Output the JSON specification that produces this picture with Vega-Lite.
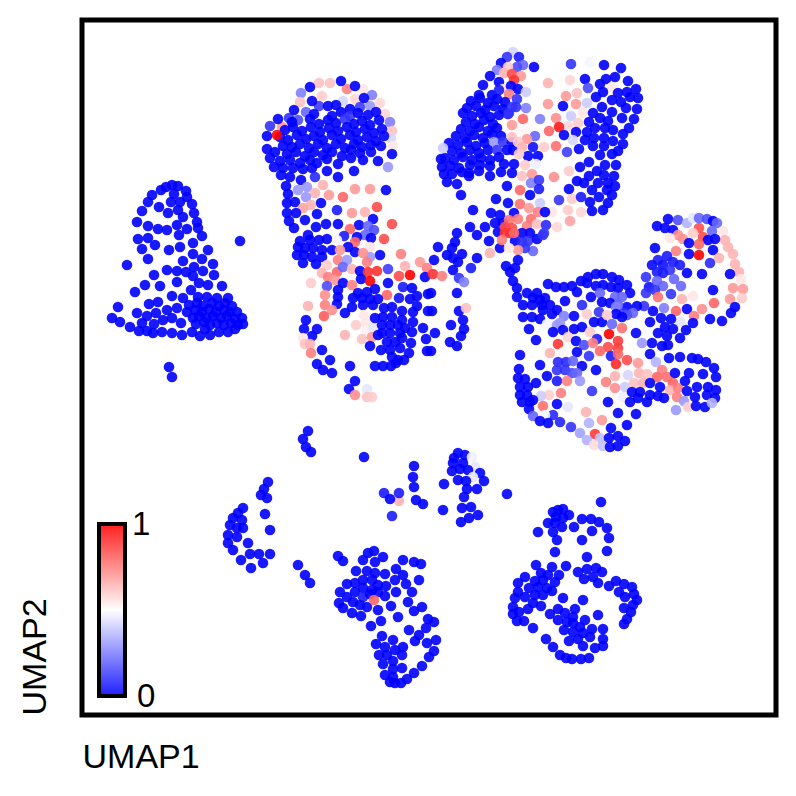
{"$schema":"https://vega.github.io/schema/vega-lite/v6.json","width":694,"height":695,"autosize":"none","padding":{"left":82,"top":20,"right":20,"bottom":81},"background":"white","config":{"view":{"stroke":"black","strokeWidth":5},"font":"Liberation Sans"},
"data":{"values":[
{"x":172,"y":185,"v":0},{"x":178,"y":186,"v":0},{"x":166,"y":187,"v":0},{"x":161,"y":190,"v":0},{"x":186,"y":191,"v":0},{"x":152,"y":195,"v":0},{"x":174,"y":194,"v":0},{"x":148,"y":202,"v":0},{"x":171,"y":202,"v":0},{"x":180,"y":202,"v":0},{"x":187,"y":197,"v":0},{"x":192,"y":204,"v":0},{"x":142,"y":211,"v":0},{"x":159,"y":207,"v":0},{"x":168,"y":213,"v":0},{"x":178,"y":210,"v":0},{"x":194,"y":213,"v":0},{"x":183,"y":217,"v":0},{"x":137,"y":222,"v":0},{"x":148,"y":226,"v":0},{"x":158,"y":229,"v":0},{"x":167,"y":230,"v":0},{"x":177,"y":225,"v":0},{"x":187,"y":229,"v":0},{"x":197,"y":222,"v":0},{"x":198,"y":228,"v":0},{"x":179,"y":235,"v":0},{"x":202,"y":236,"v":0},{"x":138,"y":239,"v":0},{"x":148,"y":238,"v":0},{"x":155,"y":245,"v":0},{"x":142,"y":249,"v":0},{"x":169,"y":250,"v":0},{"x":180,"y":247,"v":0},{"x":193,"y":243,"v":0},{"x":208,"y":250,"v":0},{"x":193,"y":254,"v":0},{"x":148,"y":259,"v":0},{"x":202,"y":259,"v":0},{"x":183,"y":261,"v":0},{"x":213,"y":264,"v":0},{"x":127,"y":265,"v":0},{"x":194,"y":267,"v":0},{"x":167,"y":270,"v":0},{"x":177,"y":271,"v":0},{"x":186,"y":272,"v":0},{"x":203,"y":271,"v":0},{"x":154,"y":275,"v":0},{"x":214,"y":275,"v":0},{"x":193,"y":276,"v":0},{"x":177,"y":282,"v":0},{"x":199,"y":283,"v":0},{"x":208,"y":285,"v":0},{"x":222,"y":286,"v":0},{"x":145,"y":285,"v":0},{"x":160,"y":286,"v":0},{"x":191,"y":290,"v":0},{"x":135,"y":292,"v":0},{"x":172,"y":296,"v":0},{"x":183,"y":298,"v":0},{"x":198,"y":297,"v":0},{"x":207,"y":297,"v":0},{"x":217,"y":298,"v":0},{"x":228,"y":298,"v":0},{"x":158,"y":302,"v":0},{"x":149,"y":304,"v":0},{"x":118,"y":307,"v":0},{"x":177,"y":308,"v":0},{"x":167,"y":310,"v":0},{"x":112,"y":318,"v":0},{"x":120,"y":322,"v":0},{"x":137,"y":313,"v":0},{"x":156,"y":313,"v":0},{"x":147,"y":316,"v":0},{"x":172,"y":318,"v":0},{"x":163,"y":320,"v":0},{"x":142,"y":323,"v":0},{"x":154,"y":324,"v":0},{"x":181,"y":323,"v":0},{"x":130,"y":327,"v":0},{"x":139,"y":331,"v":0},{"x":147,"y":331,"v":0},{"x":153,"y":333,"v":0},{"x":162,"y":332,"v":0},{"x":172,"y":333,"v":0},{"x":182,"y":335,"v":0},{"x":192,"y":332,"v":0},{"x":200,"y":336,"v":0},{"x":210,"y":335,"v":0},{"x":219,"y":332,"v":0},{"x":228,"y":332,"v":0},{"x":235,"y":329,"v":0},{"x":243,"y":324,"v":0},{"x":242,"y":318,"v":0},{"x":237,"y":312,"v":0},{"x":232,"y":306,"v":0},
{"x":189,"y":305,"v":0},{"x":197,"y":303,"v":0},{"x":203,"y":306,"v":0},{"x":212,"y":303,"v":0},{"x":219,"y":306,"v":0},{"x":225,"y":303,"v":0},{"x":187,"y":312,"v":0},{"x":195,"y":310,"v":0},{"x":202,"y":312,"v":0},{"x":209,"y":309,"v":0},{"x":216,"y":312,"v":0},{"x":224,"y":310,"v":0},{"x":230,"y":312,"v":0},{"x":193,"y":318,"v":0},{"x":199,"y":316,"v":0},{"x":207,"y":318,"v":0},{"x":213,"y":316,"v":0},{"x":221,"y":318,"v":0},{"x":227,"y":316,"v":0},{"x":235,"y":319,"v":0},{"x":196,"y":324,"v":0},{"x":204,"y":322,"v":0},{"x":210,"y":325,"v":0},{"x":217,"y":323,"v":0},{"x":224,"y":325,"v":0},{"x":231,"y":323,"v":0},{"x":238,"y":325,"v":0},{"x":205,"y":329,"v":0},{"x":240,"y":241,"v":0},{"x":169,"y":367,"v":0},{"x":172,"y":377,"v":0},
{"x":319,"y":83,"v":0.62},{"x":330,"y":83,"v":0.62},{"x":347,"y":89,"v":0.75},{"x":363,"y":89,"v":0.55},{"x":301,"y":93,"v":0.25},{"x":372,"y":95,"v":0.25},{"x":322,"y":96,"v":0.6},{"x":355,"y":99,"v":0.58},{"x":343,"y":101,"v":0.42},{"x":300,"y":102,"v":0.62},{"x":380,"y":103,"v":0.58},{"x":319,"y":106,"v":0.12},{"x":360,"y":107,"v":0.12},{"x":370,"y":106,"v":0.3},{"x":306,"y":112,"v":0.2},{"x":385,"y":114,"v":0.58},{"x":289,"y":118,"v":0.1},{"x":298,"y":120,"v":0.15},{"x":322,"y":117,"v":0.5},{"x":390,"y":122,"v":0.25},{"x":270,"y":126,"v":0.1},{"x":282,"y":127,"v":0.7},{"x":392,"y":131,"v":0.62},{"x":391,"y":138,"v":0.42},{"x":393,"y":146,"v":0.55},{"x":388,"y":167,"v":0.3},{"x":341,"y":81,"v":0},{"x":355,"y":86,"v":0},{"x":310,"y":87,"v":0},{"x":364,"y":98,"v":0},{"x":312,"y":101,"v":0},{"x":328,"y":106,"v":0},{"x":336,"y":105,"v":0},{"x":350,"y":109,"v":0},{"x":294,"y":110,"v":0},{"x":278,"y":119,"v":0},{"x":267,"y":136,"v":0},{"x":267,"y":149,"v":0},{"x":392,"y":154,"v":0},
{"x":314,"y":114,"v":0},{"x":332,"y":116,"v":0},{"x":341,"y":112,"v":0},{"x":350,"y":116,"v":0.1},{"x":358,"y":113,"v":0},{"x":368,"y":115,"v":0},{"x":376,"y":112,"v":0},{"x":292,"y":122,"v":0},{"x":310,"y":119,"v":0},{"x":319,"y":124,"v":0},{"x":328,"y":120,"v":0},{"x":336,"y":123,"v":0},{"x":345,"y":119,"v":0.1},{"x":354,"y":124,"v":0},{"x":362,"y":121,"v":0},{"x":370,"y":125,"v":0},{"x":379,"y":120,"v":0},{"x":285,"y":130,"v":0},{"x":293,"y":127,"v":0},{"x":302,"y":131,"v":0},{"x":311,"y":127,"v":0},{"x":320,"y":132,"v":0},{"x":329,"y":128,"v":0},{"x":338,"y":131,"v":0},{"x":347,"y":127,"v":0},{"x":356,"y":132,"v":0},{"x":365,"y":129,"v":0},{"x":374,"y":133,"v":0},{"x":382,"y":129,"v":0},{"x":280,"y":137,"v":0},{"x":288,"y":140,"v":0},{"x":297,"y":135,"v":0},{"x":306,"y":139,"v":0},{"x":314,"y":136,"v":0},{"x":323,"y":140,"v":0},{"x":332,"y":135,"v":0},{"x":341,"y":139,"v":0},{"x":350,"y":135,"v":0},{"x":358,"y":140,"v":0},{"x":367,"y":137,"v":0},{"x":376,"y":141,"v":0},{"x":384,"y":136,"v":0},{"x":283,"y":146,"v":0},{"x":292,"y":147,"v":0},{"x":300,"y":144,"v":0},{"x":309,"y":148,"v":0},{"x":318,"y":144,"v":0},{"x":327,"y":148,"v":0},{"x":336,"y":144,"v":0},{"x":345,"y":148,"v":0},{"x":354,"y":144,"v":0},{"x":362,"y":147,"v":0},{"x":371,"y":145,"v":0},{"x":381,"y":146,"v":0},{"x":275,"y":152,"v":0},{"x":287,"y":154,"v":0},{"x":296,"y":152,"v":0},{"x":305,"y":156,"v":0},{"x":314,"y":152,"v":0},{"x":323,"y":155,"v":0},{"x":332,"y":152,"v":0},{"x":342,"y":156,"v":0},{"x":351,"y":150,"v":0},{"x":360,"y":153,"v":0},{"x":371,"y":152,"v":0},{"x":270,"y":158,"v":0},{"x":280,"y":161,"v":0},{"x":290,"y":160,"v":0},{"x":300,"y":163,"v":0},{"x":310,"y":160,"v":0},{"x":317,"y":163,"v":0},{"x":327,"y":159,"v":0},{"x":338,"y":164,"v":0},{"x":351,"y":158,"v":0},{"x":363,"y":160,"v":0},{"x":378,"y":161,"v":0},{"x":274,"y":167,"v":0},{"x":283,"y":168,"v":0},{"x":293,"y":168,"v":0},{"x":303,"y":169,"v":0},{"x":312,"y":168,"v":0},{"x":277,"y":135,"v":1},{"x":281,"y":175,"v":0},{"x":290,"y":177,"v":0},{"x":301,"y":180,"v":0},{"x":315,"y":177,"v":0.08},{"x":327,"y":171,"v":0},{"x":338,"y":177,"v":0},{"x":354,"y":171,"v":0},
{"x":286,"y":186,"v":0},{"x":323,"y":185,"v":0.65},{"x":355,"y":189,"v":0.7},{"x":370,"y":189,"v":0.7},{"x":386,"y":190,"v":0},{"x":298,"y":190,"v":0.3},{"x":307,"y":187,"v":0.3},{"x":315,"y":193,"v":0.65},{"x":288,"y":194,"v":0},{"x":329,"y":195,"v":0.7},{"x":343,"y":197,"v":0.8},{"x":306,"y":197,"v":0.3},{"x":287,"y":203,"v":0},{"x":295,"y":202,"v":0},{"x":321,"y":203,"v":0},{"x":377,"y":207,"v":0.85},{"x":311,"y":205,"v":0.65},{"x":303,"y":208,"v":0.68},{"x":337,"y":210,"v":0.05},{"x":352,"y":213,"v":0.7},{"x":365,"y":212,"v":0.65},{"x":287,"y":213,"v":0},{"x":296,"y":213,"v":0},{"x":317,"y":214,"v":0},{"x":373,"y":219,"v":0},{"x":289,"y":221,"v":0},{"x":305,"y":220,"v":0},{"x":326,"y":224,"v":0},{"x":338,"y":224,"v":0},{"x":359,"y":225,"v":0},{"x":392,"y":224,"v":0.85},{"x":294,"y":228,"v":0},{"x":316,"y":227,"v":0},{"x":350,"y":229,"v":0.8},{"x":368,"y":226,"v":0.2},{"x":374,"y":230,"v":0.15},{"x":308,"y":235,"v":0},{"x":365,"y":235,"v":0.2},{"x":344,"y":236,"v":0.05},{"x":357,"y":237,"v":0},{"x":371,"y":238,"v":0},{"x":384,"y":239,"v":0.85},
{"x":300,"y":241,"v":0},{"x":310,"y":240,"v":0},{"x":319,"y":240,"v":0},{"x":327,"y":239,"v":0},{"x":298,"y":247,"v":0},{"x":305,"y":248,"v":0},{"x":313,"y":248,"v":0},{"x":322,"y":250,"v":0},{"x":332,"y":250,"v":0},{"x":297,"y":255,"v":0},{"x":304,"y":255,"v":0},{"x":312,"y":257,"v":0},{"x":322,"y":257,"v":0},{"x":303,"y":263,"v":0},{"x":316,"y":264,"v":0},{"x":355,"y":242,"v":0.8},{"x":337,"y":240,"v":0.52},{"x":370,"y":247,"v":0.55},{"x":348,"y":247,"v":0},{"x":355,"y":252,"v":0},{"x":401,"y":254,"v":0.75},{"x":380,"y":255,"v":0},{"x":370,"y":257,"v":0.3},{"x":340,"y":250,"v":0.7},{"x":363,"y":253,"v":0.72},{"x":338,"y":260,"v":0.75},{"x":347,"y":260,"v":0.3},{"x":327,"y":265,"v":0.6},{"x":405,"y":266,"v":0.65},{"x":420,"y":262,"v":0.7},{"x":427,"y":268,"v":0.75},{"x":388,"y":269,"v":0.12},{"x":367,"y":262,"v":0.75},{"x":322,"y":273,"v":0.65},{"x":337,"y":272,"v":0.8},{"x":343,"y":267,"v":0.2},{"x":352,"y":269,"v":0.65},{"x":360,"y":271,"v":0},{"x":368,"y":272,"v":0.9},{"x":377,"y":271,"v":0.9},{"x":410,"y":275,"v":1},{"x":399,"y":276,"v":0.85},{"x":425,"y":277,"v":0},{"x":328,"y":277,"v":0.75},{"x":335,"y":280,"v":0.7},{"x":361,"y":279,"v":0},{"x":370,"y":281,"v":1},{"x":388,"y":283,"v":0},{"x":343,"y":283,"v":0},{"x":352,"y":285,"v":0.75},{"x":311,"y":283,"v":0.6},{"x":327,"y":286,"v":0.15},{"x":403,"y":287,"v":0.05},{"x":412,"y":288,"v":0},{"x":338,"y":290,"v":0},{"x":375,"y":289,"v":0},{"x":358,"y":293,"v":0},{"x":367,"y":292,"v":0},{"x":325,"y":295,"v":0.72},{"x":338,"y":297,"v":0},{"x":417,"y":296,"v":0},{"x":387,"y":295,"v":0.8},{"x":399,"y":298,"v":0.03},{"x":410,"y":299,"v":0},{"x":428,"y":294,"v":0},{"x":353,"y":298,"v":0},{"x":362,"y":298,"v":0},{"x":370,"y":299,"v":0},{"x":378,"y":299,"v":0},{"x":325,"y":305,"v":0.75},{"x":337,"y":304,"v":0},{"x":352,"y":307,"v":0},{"x":363,"y":305,"v":0},{"x":373,"y":305,"v":0},{"x":308,"y":306,"v":0.65},{"x":332,"y":310,"v":0.72},{"x":345,"y":313,"v":0},{"x":324,"y":316,"v":0.82},{"x":384,"y":308,"v":0},{"x":392,"y":307,"v":0},{"x":402,"y":311,"v":0},{"x":417,"y":306,"v":0},{"x":413,"y":312,"v":0},{"x":428,"y":311,"v":0},
{"x":364,"y":315,"v":0.55},{"x":366,"y":323,"v":0.55},{"x":356,"y":325,"v":0.6},{"x":367,"y":330,"v":0.53},{"x":373,"y":327,"v":0.45},{"x":345,"y":335,"v":0.65},{"x":362,"y":339,"v":0.62},{"x":372,"y":337,"v":0.7},{"x":375,"y":318,"v":0},{"x":383,"y":317,"v":0},{"x":392,"y":317,"v":0},{"x":402,"y":320,"v":0},{"x":413,"y":322,"v":0},{"x":382,"y":325,"v":0},{"x":390,"y":325,"v":0},{"x":398,"y":325,"v":0},{"x":405,"y":328,"v":0},{"x":423,"y":328,"v":0},{"x":382,"y":333,"v":0},{"x":390,"y":333,"v":0},{"x":400,"y":333,"v":0},{"x":412,"y":332,"v":0},{"x":378,"y":335,"v":0},{"x":387,"y":342,"v":0},{"x":395,"y":342,"v":0},{"x":402,"y":338,"v":0},{"x":411,"y":343,"v":0},{"x":426,"y":339,"v":0},{"x":381,"y":350,"v":0},{"x":390,"y":350,"v":0},{"x":400,"y":348,"v":0},{"x":409,"y":353,"v":0},{"x":427,"y":351,"v":0},{"x":392,"y":357,"v":0},{"x":398,"y":360,"v":0},{"x":404,"y":360,"v":0},{"x":375,"y":366,"v":0},{"x":383,"y":366,"v":0},{"x":391,"y":366,"v":0},{"x":396,"y":363,"v":0},{"x":370,"y":346,"v":0},
{"x":306,"y":320,"v":0},{"x":304,"y":329,"v":0},{"x":317,"y":329,"v":0},{"x":312,"y":336,"v":0},{"x":303,"y":338,"v":0.55},{"x":305,"y":344,"v":0.62},{"x":310,"y":344,"v":0.65},{"x":311,"y":353,"v":0.75},{"x":322,"y":350,"v":0},{"x":330,"y":360,"v":0},{"x":317,"y":364,"v":0},{"x":323,"y":370,"v":0},{"x":332,"y":373,"v":0},{"x":350,"y":366,"v":0},{"x":355,"y":381,"v":0},{"x":349,"y":389,"v":0},{"x":367,"y":389,"v":0.45},{"x":355,"y":395,"v":0.72},{"x":367,"y":397,"v":0.62},{"x":372,"y":397,"v":0.6},
{"x":438,"y":247,"v":0},{"x":457,"y":233,"v":0},{"x":455,"y":242,"v":0},{"x":452,"y":248,"v":0},{"x":447,"y":255,"v":0},{"x":453,"y":258,"v":0},{"x":462,"y":254,"v":0},{"x":458,"y":262,"v":0},{"x":453,"y":270,"v":0},{"x":434,"y":260,"v":0},{"x":433,"y":274,"v":0.9},{"x":442,"y":276,"v":0.75},{"x":471,"y":268,"v":0.05},{"x":477,"y":258,"v":0},{"x":459,"y":278,"v":0.1},{"x":464,"y":282,"v":0.25},{"x":431,"y":293,"v":0},{"x":457,"y":293,"v":0},{"x":432,"y":311,"v":0},{"x":459,"y":311,"v":0},{"x":466,"y":308,"v":0.62},{"x":463,"y":320,"v":0},{"x":464,"y":329,"v":0},{"x":451,"y":325,"v":0},{"x":435,"y":333,"v":0},{"x":461,"y":336,"v":0},{"x":450,"y":342,"v":0},{"x":457,"y":346,"v":0},{"x":431,"y":351,"v":0},
{"x":513,"y":52,"v":0.42},{"x":507,"y":57,"v":0.1},{"x":519,"y":57,"v":0.05},{"x":501,"y":63,"v":0},{"x":523,"y":65,"v":0.2},{"x":534,"y":67,"v":0},{"x":517,"y":67,"v":0.15},{"x":508,"y":67,"v":0.6},{"x":497,"y":70,"v":0.25},{"x":490,"y":76,"v":0},{"x":504,"y":73,"v":0.65},{"x":512,"y":74,"v":0.85},{"x":521,"y":76,"v":0.7},{"x":514,"y":80,"v":0.9},{"x":499,"y":82,"v":0},{"x":483,"y":85,"v":0},{"x":503,"y":89,"v":0.55},{"x":518,"y":89,"v":0},{"x":511,"y":86,"v":0},{"x":526,"y":92,"v":0.4},{"x":479,"y":95,"v":0},{"x":509,"y":94,"v":0.75},{"x":492,"y":95,"v":0},{"x":499,"y":90,"v":0.05},
{"x":471,"y":101,"v":0},{"x":480,"y":98,"v":0},{"x":488,"y":103,"v":0},{"x":497,"y":99,"v":0},{"x":505,"y":102,"v":0},{"x":467,"y":108,"v":0},{"x":476,"y":106,"v":0},{"x":485,"y":110,"v":0},{"x":494,"y":106,"v":0},{"x":503,"y":109,"v":0},{"x":512,"y":107,"v":0.1},{"x":463,"y":113,"v":0},{"x":472,"y":116,"v":0},{"x":481,"y":113,"v":0},{"x":490,"y":117,"v":0},{"x":499,"y":115,"v":0},{"x":508,"y":114,"v":0.05},{"x":466,"y":122,"v":0},{"x":475,"y":124,"v":0},{"x":484,"y":120,"v":0},{"x":493,"y":124,"v":0},{"x":461,"y":129,"v":0},{"x":470,"y":131,"v":0},{"x":479,"y":127,"v":0},{"x":488,"y":131,"v":0},{"x":497,"y":128,"v":0},{"x":456,"y":136,"v":0},{"x":465,"y":138,"v":0},{"x":474,"y":135,"v":0},{"x":483,"y":138,"v":0},{"x":492,"y":134,"v":0},{"x":501,"y":136,"v":0},{"x":449,"y":143,"v":0},{"x":458,"y":145,"v":0},{"x":467,"y":142,"v":0},{"x":476,"y":146,"v":0},{"x":485,"y":143,"v":0},{"x":494,"y":142,"v":0.3},{"x":503,"y":142,"v":0.1},{"x":512,"y":142,"v":0},{"x":452,"y":151,"v":0},{"x":461,"y":153,"v":0},{"x":470,"y":150,"v":0},{"x":479,"y":153,"v":0},{"x":488,"y":150,"v":0},{"x":497,"y":150,"v":0.1},{"x":507,"y":150,"v":0},{"x":513,"y":150,"v":0},{"x":445,"y":158,"v":0},{"x":454,"y":160,"v":0},{"x":463,"y":157,"v":0},{"x":472,"y":160,"v":0},{"x":481,"y":158,"v":0},{"x":490,"y":160,"v":0},{"x":499,"y":157,"v":0},{"x":441,"y":159,"v":0},{"x":442,"y":167,"v":0},{"x":450,"y":166,"v":0},{"x":459,"y":168,"v":0},{"x":470,"y":165,"v":0},{"x":480,"y":165,"v":0},{"x":490,"y":166,"v":0},{"x":504,"y":164,"v":0},{"x":514,"y":164,"v":0},{"x":452,"y":174,"v":0},{"x":462,"y":172,"v":0},{"x":469,"y":173,"v":0},{"x":479,"y":171,"v":0},
{"x":443,"y":148,"v":0.4},{"x":444,"y":174,"v":0},{"x":447,"y":182,"v":0},{"x":457,"y":184,"v":0},{"x":469,"y":176,"v":0},{"x":490,"y":176,"v":0},{"x":501,"y":172,"v":0},{"x":512,"y":173,"v":0},{"x":507,"y":186,"v":0},{"x":461,"y":195,"v":0},{"x":496,"y":199,"v":0},{"x":508,"y":203,"v":0},{"x":528,"y":156,"v":0},{"x":538,"y":156,"v":0},{"x":533,"y":147,"v":0.03},{"x":535,"y":136,"v":0.2},{"x":526,"y":108,"v":0.25},{"x":517,"y":99,"v":0.1},{"x":516,"y":107,"v":0.1},{"x":509,"y":113,"v":0.1},
{"x":548,"y":83,"v":0.65},{"x":570,"y":80,"v":0.58},{"x":571,"y":64,"v":0.1},{"x":590,"y":62,"v":0.48},{"x":585,"y":79,"v":0},{"x":588,"y":88,"v":0.15},{"x":577,"y":93,"v":0.62},{"x":566,"y":96,"v":0.7},{"x":548,"y":104,"v":0.7},{"x":563,"y":106,"v":0},{"x":576,"y":104,"v":0.7},{"x":587,"y":103,"v":0.4},{"x":523,"y":119,"v":0.8},{"x":540,"y":119,"v":0.25},{"x":556,"y":118,"v":0.72},{"x":571,"y":116,"v":0.4},{"x":583,"y":113,"v":0.55},{"x":512,"y":125,"v":0.7},{"x":578,"y":123,"v":0.6},{"x":568,"y":126,"v":0.58},{"x":559,"y":127,"v":0.95},{"x":527,"y":128,"v":0.52},{"x":521,"y":132,"v":0.52},{"x":549,"y":131,"v":0.8},{"x":576,"y":132,"v":0},{"x":564,"y":135,"v":0},{"x":512,"y":137,"v":0.62},{"x":527,"y":139,"v":0.7},{"x":518,"y":142,"v":0.6},{"x":573,"y":140,"v":0.42},{"x":544,"y":147,"v":0.6},{"x":556,"y":146,"v":0.78},{"x":522,"y":147,"v":0.65},{"x":567,"y":152,"v":0.12},{"x":579,"y":149,"v":0},{"x":519,"y":154,"v":0.6},{"x":525,"y":165,"v":0.6},{"x":536,"y":164,"v":0.47},{"x":569,"y":171,"v":0.6},{"x":554,"y":177,"v":0.72},{"x":522,"y":176,"v":0.62},{"x":532,"y":174,"v":0.7},{"x":531,"y":183,"v":0.25},{"x":539,"y":180,"v":0.1},{"x":539,"y":189,"v":0.05},{"x":520,"y":190,"v":0.8},{"x":530,"y":195,"v":0},{"x":569,"y":189,"v":0},{"x":559,"y":200,"v":0.1},{"x":572,"y":199,"v":0.6},{"x":520,"y":204,"v":0.78},{"x":540,"y":203,"v":0.4},{"x":529,"y":208,"v":0.7},{"x":568,"y":210,"v":0.6},{"x":552,"y":212,"v":0.55},{"x":581,"y":212,"v":0.58},{"x":538,"y":212,"v":0.75},{"x":545,"y":212,"v":0},{"x":570,"y":221,"v":0.68},{"x":557,"y":227,"v":0.58},
{"x":473,"y":210,"v":0},{"x":491,"y":213,"v":0},{"x":500,"y":215,"v":0},{"x":514,"y":213,"v":0},{"x":495,"y":223,"v":0},{"x":503,"y":223,"v":0},{"x":470,"y":227,"v":0},{"x":485,"y":227,"v":0},{"x":477,"y":235,"v":0},{"x":498,"y":232,"v":0},{"x":489,"y":241,"v":0},{"x":500,"y":248,"v":0},{"x":509,"y":220,"v":0.78},{"x":518,"y":219,"v":0.75},{"x":505,"y":227,"v":0.85},{"x":512,"y":228,"v":0.85},{"x":510,"y":233,"v":0.9},{"x":505,"y":233,"v":0.9},{"x":502,"y":240,"v":0.75},{"x":531,"y":219,"v":0.78},{"x":527,"y":226,"v":0.75},{"x":537,"y":224,"v":0.62},{"x":546,"y":225,"v":0.08},{"x":544,"y":233,"v":0.12},{"x":530,"y":233,"v":0},{"x":522,"y":233,"v":0},{"x":515,"y":241,"v":0},{"x":522,"y":242,"v":0.08},{"x":528,"y":241,"v":0.1},{"x":537,"y":239,"v":0},{"x":543,"y":235,"v":0.1},{"x":533,"y":251,"v":0.2},{"x":525,"y":248,"v":0.1},{"x":518,"y":250,"v":0.7},{"x":509,"y":248,"v":0.55},{"x":490,"y":253,"v":0.65},{"x":514,"y":233,"v":0.8},
{"x":604,"y":65,"v":0},{"x":621,"y":68,"v":0},{"x":600,"y":84,"v":0},{"x":606,"y":79,"v":0},{"x":615,"y":77,"v":0},{"x":628,"y":81,"v":0},{"x":612,"y":87,"v":0.55},{"x":603,"y":92,"v":0},{"x":596,"y":97,"v":0},{"x":618,"y":93,"v":0},{"x":627,"y":92,"v":0},{"x":636,"y":89,"v":0},{"x":630,"y":97,"v":0},{"x":638,"y":98,"v":0},{"x":612,"y":100,"v":0},{"x":621,"y":102,"v":0},{"x":602,"y":107,"v":0},{"x":626,"y":108,"v":0},{"x":637,"y":109,"v":0},{"x":612,"y":112,"v":0},{"x":593,"y":113,"v":0},{"x":622,"y":118,"v":0},{"x":634,"y":119,"v":0},{"x":600,"y":118,"v":0},{"x":589,"y":122,"v":0},{"x":608,"y":121,"v":0},{"x":629,"y":128,"v":0},{"x":595,"y":128,"v":0},{"x":605,"y":128,"v":0},{"x":613,"y":130,"v":0},{"x":587,"y":132,"v":0},{"x":623,"y":134,"v":0},{"x":585,"y":140,"v":0},{"x":594,"y":138,"v":0},{"x":604,"y":138,"v":0},{"x":613,"y":141,"v":0},{"x":623,"y":144,"v":0},{"x":593,"y":146,"v":0},{"x":604,"y":146,"v":0},{"x":618,"y":151,"v":0},{"x":600,"y":155,"v":0},{"x":612,"y":154,"v":0},{"x":589,"y":162,"v":0},{"x":580,"y":167,"v":0},{"x":605,"y":165,"v":0},{"x":616,"y":165,"v":0},{"x":597,"y":171,"v":0},{"x":589,"y":176,"v":0},{"x":604,"y":175,"v":0},{"x":614,"y":176,"v":0},{"x":577,"y":181,"v":0},{"x":584,"y":183,"v":0},{"x":598,"y":183,"v":0},{"x":608,"y":183,"v":0},{"x":615,"y":186,"v":0},{"x":592,"y":190,"v":0},{"x":607,"y":190,"v":0},{"x":612,"y":195,"v":0},{"x":581,"y":197,"v":0.05},{"x":599,"y":197,"v":0},{"x":590,"y":202,"v":0},{"x":608,"y":203,"v":0},{"x":592,"y":211,"v":0},{"x":603,"y":210,"v":0},
{"x":668,"y":219,"v":0},{"x":657,"y":226,"v":0},{"x":665,"y":228,"v":0},{"x":678,"y":220,"v":0.15},{"x":687,"y":223,"v":0.35},{"x":693,"y":218,"v":0.45},{"x":699,"y":218,"v":0.2},{"x":707,"y":219,"v":0.15},{"x":713,"y":221,"v":0},{"x":717,"y":223,"v":0.2},{"x":712,"y":231,"v":0.2},{"x":723,"y":231,"v":0.55},{"x":699,"y":228,"v":0.85},{"x":693,"y":233,"v":0.6},{"x":703,"y":237,"v":0.85},{"x":673,"y":230,"v":0},{"x":678,"y":235,"v":0.72},{"x":683,"y":239,"v":0.72},{"x":670,"y":238,"v":0.55},{"x":725,"y":240,"v":0.65},{"x":708,"y":240,"v":0},{"x":715,"y":239,"v":0},{"x":699,"y":244,"v":0.8},{"x":689,"y":243,"v":0},{"x":728,"y":247,"v":0.65},{"x":655,"y":248,"v":0},{"x":713,"y":250,"v":0},{"x":676,"y":251,"v":0.75},{"x":689,"y":254,"v":0},{"x":699,"y":255,"v":1},{"x":733,"y":254,"v":0.65},{"x":719,"y":258,"v":0.65},{"x":710,"y":263,"v":0.08},{"x":735,"y":264,"v":0.65},{"x":739,"y":272,"v":0.65},{"x":687,"y":273,"v":0},{"x":702,"y":274,"v":0},{"x":730,"y":274,"v":0},{"x":741,"y":279,"v":0.55},{"x":733,"y":288,"v":0.7},{"x":743,"y":289,"v":0.7},{"x":713,"y":290,"v":0},{"x":742,"y":298,"v":0.6},{"x":693,"y":296,"v":0.55},{"x":682,"y":299,"v":0.65},{"x":730,"y":299,"v":0.7},{"x":714,"y":303,"v":0.8},{"x":702,"y":309,"v":0.72},{"x":687,"y":309,"v":0},{"x":676,"y":311,"v":0.8},{"x":735,"y":307,"v":0},{"x":731,"y":313,"v":0},{"x":694,"y":316,"v":0.75},{"x":710,"y":319,"v":0},{"x":722,"y":321,"v":0},{"x":693,"y":323,"v":0},{"x":680,"y":322,"v":0.45},{"x":686,"y":330,"v":0},{"x":680,"y":338,"v":0},
{"x":667,"y":256,"v":0.05},{"x":658,"y":260,"v":0.05},{"x":673,"y":262,"v":0.05},{"x":652,"y":265,"v":0.02},{"x":663,"y":265,"v":0.03},{"x":680,"y":265,"v":0.05},{"x":657,"y":272,"v":0.05},{"x":670,"y":270,"v":0.1},{"x":663,"y":273,"v":0.05},{"x":646,"y":277,"v":0.1},{"x":674,"y":279,"v":0.2},{"x":657,"y":281,"v":0.2},{"x":649,"y":287,"v":0.03},{"x":663,"y":286,"v":0.2},{"x":681,"y":286,"v":0.2},{"x":655,"y":290,"v":0.1},{"x":646,"y":293,"v":0.1},{"x":671,"y":294,"v":0.1},{"x":658,"y":297,"v":0.78},{"x":664,"y":308,"v":0.25},{"x":644,"y":306,"v":0.1},{"x":653,"y":311,"v":0},{"x":661,"y":318,"v":0},{"x":671,"y":319,"v":0},{"x":650,"y":322,"v":0},{"x":665,"y":327,"v":0},{"x":673,"y":329,"v":0},{"x":658,"y":333,"v":0},{"x":667,"y":336,"v":0},{"x":652,"y":343,"v":0},{"x":662,"y":346,"v":0},{"x":668,"y":345,"v":0},{"x":650,"y":354,"v":0},
{"x":548,"y":284,"v":0},{"x":556,"y":287,"v":0},{"x":564,"y":287,"v":0},{"x":572,"y":286,"v":0},{"x":581,"y":281,"v":0},{"x":588,"y":277,"v":0},{"x":596,"y":274,"v":0},{"x":603,"y":274,"v":0},{"x":612,"y":277,"v":0},{"x":619,"y":280,"v":0},{"x":627,"y":285,"v":0},{"x":630,"y":293,"v":0},{"x":577,"y":292,"v":0},{"x":587,"y":283,"v":0},{"x":596,"y":286,"v":0},{"x":603,"y":285,"v":0},{"x":611,"y":287,"v":0},{"x":618,"y":288,"v":0},{"x":591,"y":297,"v":0},{"x":615,"y":297,"v":0.2},{"x":622,"y":297,"v":0.2},{"x":600,"y":293,"v":0.2},{"x":602,"y":302,"v":0},{"x":610,"y":303,"v":0},{"x":627,"y":307,"v":0},{"x":637,"y":306,"v":0},{"x":618,"y":305,"v":0.2},{"x":616,"y":307,"v":0.25},{"x":565,"y":301,"v":0},{"x":582,"y":305,"v":0.08},{"x":624,"y":313,"v":0.1},{"x":633,"y":313,"v":0.2},{"x":627,"y":315,"v":0.15},{"x":616,"y":314,"v":0},{"x":622,"y":317,"v":0},
{"x":517,"y":297,"v":0},{"x":527,"y":293,"v":0},{"x":537,"y":293,"v":0},{"x":533,"y":298,"v":0},{"x":540,"y":300,"v":0},{"x":545,"y":298,"v":0},{"x":523,"y":305,"v":0},{"x":532,"y":305,"v":0},{"x":542,"y":305,"v":0},{"x":550,"y":305,"v":0},{"x":557,"y":310,"v":0},{"x":543,"y":310,"v":0},{"x":552,"y":314,"v":0},{"x":523,"y":317,"v":0},{"x":532,"y":317,"v":0},{"x":540,"y":319,"v":0},{"x":518,"y":260,"v":0},{"x":506,"y":266,"v":0},{"x":515,"y":268,"v":0},{"x":510,"y":272,"v":0},{"x":513,"y":281,"v":0},{"x":517,"y":288,"v":0},
{"x":547,"y":324,"v":0.48},{"x":557,"y":325,"v":0.3},{"x":564,"y":316,"v":0.25},{"x":560,"y":323,"v":0.3},{"x":574,"y":316,"v":0},{"x":529,"y":329,"v":0},{"x":536,"y":340,"v":0},{"x":553,"y":332,"v":0},{"x":563,"y":330,"v":0},{"x":574,"y":329,"v":0},{"x":582,"y":327,"v":0},{"x":587,"y":314,"v":0.6},{"x":594,"y":322,"v":0},{"x":602,"y":322,"v":0},{"x":599,"y":312,"v":0.1},{"x":607,"y":315,"v":0.6},{"x":612,"y":324,"v":0.2},{"x":622,"y":328,"v":0.78},{"x":590,"y":332,"v":0.6},{"x":568,"y":337,"v":0.58},{"x":597,"y":339,"v":0.05},{"x":609,"y":334,"v":1},{"x":636,"y":333,"v":0},{"x":576,"y":341,"v":0},{"x":558,"y":344,"v":0.9},{"x":584,"y":345,"v":0.15},{"x":593,"y":343,"v":0.75},{"x":618,"y":341,"v":0.88},{"x":642,"y":343,"v":0.3},{"x":618,"y":348,"v":0.88},{"x":608,"y":347,"v":0.85},{"x":600,"y":351,"v":0.8},{"x":577,"y":352,"v":0},{"x":550,"y":353,"v":0.65},{"x":563,"y":352,"v":0.52},{"x":589,"y":356,"v":0.1},{"x":611,"y":356,"v":0.05},{"x":618,"y":354,"v":0.8},{"x":520,"y":355,"v":0},{"x":627,"y":360,"v":0.85},{"x":558,"y":362,"v":0.08},{"x":566,"y":362,"v":0.08},{"x":573,"y":361,"v":0.2},{"x":656,"y":362,"v":0.35},{"x":616,"y":364,"v":0.92},{"x":638,"y":363,"v":0.7},{"x":540,"y":365,"v":0},{"x":582,"y":366,"v":0},{"x":557,"y":370,"v":0.1},{"x":565,"y":370,"v":0.1},{"x":572,"y":373,"v":0.15},{"x":577,"y":373,"v":0.2},{"x":519,"y":369,"v":0},{"x":596,"y":370,"v":0},{"x":628,"y":375,"v":0.42},{"x":639,"y":373,"v":0.65},{"x":615,"y":376,"v":0.65},{"x":647,"y":374,"v":0.62},{"x":547,"y":376,"v":0},{"x":518,"y":378,"v":0},{"x":525,"y":379,"v":0},{"x":557,"y":381,"v":0.05},{"x":567,"y":381,"v":0.75},{"x":580,"y":381,"v":0.3},{"x":606,"y":382,"v":0.75},{"x":536,"y":383,"v":0},{"x":520,"y":387,"v":0},{"x":528,"y":387,"v":0},{"x":634,"y":383,"v":0.62},{"x":643,"y":383,"v":0.65},{"x":625,"y":387,"v":0.4},{"x":615,"y":388,"v":0.72},{"x":561,"y":393,"v":0.75},{"x":592,"y":391,"v":0.1},{"x":549,"y":395,"v":0.6},{"x":541,"y":396,"v":0.4},{"x":520,"y":395,"v":0},{"x":527,"y":395,"v":0},{"x":533,"y":400,"v":0},{"x":623,"y":397,"v":0.47},{"x":608,"y":402,"v":0},{"x":557,"y":404,"v":0},{"x":522,"y":402,"v":0},{"x":530,"y":402,"v":0},{"x":543,"y":406,"v":0.78},{"x":568,"y":407,"v":0.45},{"x":529,"y":409,"v":0},{"x":586,"y":412,"v":0.65},{"x":618,"y":413,"v":0},{"x":636,"y":414,"v":0},{"x":553,"y":415,"v":0.08},{"x":545,"y":415,"v":0.48},{"x":533,"y":416,"v":0.2},{"x":602,"y":420,"v":0.7},{"x":589,"y":423,"v":0.35},{"x":540,"y":421,"v":0},{"x":548,"y":423,"v":0},{"x":560,"y":422,"v":0.07},{"x":627,"y":425,"v":0},{"x":571,"y":427,"v":0.1},{"x":611,"y":428,"v":0},{"x":580,"y":433,"v":0.32},{"x":595,"y":434,"v":0.88},{"x":587,"y":440,"v":0.35},{"x":600,"y":438,"v":0.38},{"x":609,"y":438,"v":0},{"x":618,"y":436,"v":0},{"x":625,"y":441,"v":0},{"x":594,"y":445,"v":0.57},{"x":603,"y":446,"v":0.38},{"x":610,"y":447,"v":0},{"x":618,"y":446,"v":0},
{"x":662,"y":370,"v":0.75},{"x":667,"y":377,"v":0.78},{"x":657,"y":377,"v":0.8},{"x":673,"y":383,"v":0.8},{"x":670,"y":390,"v":0.65},{"x":678,"y":388,"v":0.75},{"x":677,"y":397,"v":0.75},{"x":684,"y":401,"v":0.3},{"x":688,"y":407,"v":0.6},{"x":676,"y":410,"v":0.3},{"x":632,"y":392,"v":0},{"x":640,"y":392,"v":0},{"x":650,"y":383,"v":0},{"x":660,"y":387,"v":0},{"x":650,"y":395,"v":0},{"x":658,"y":396,"v":0},{"x":664,"y":398,"v":0},{"x":638,"y":398,"v":0},{"x":630,"y":402,"v":0},{"x":647,"y":402,"v":0},{"x":669,"y":358,"v":0},{"x":680,"y":357,"v":0},{"x":692,"y":358,"v":0},{"x":698,"y":359,"v":0},{"x":706,"y":362,"v":0},{"x":714,"y":368,"v":0},{"x":675,"y":373,"v":0},{"x":689,"y":373,"v":0},{"x":703,"y":374,"v":0},{"x":716,"y":377,"v":0},{"x":685,"y":381,"v":0},{"x":697,"y":387,"v":0},{"x":708,"y":387,"v":0},{"x":716,"y":390,"v":0},{"x":687,"y":391,"v":0},{"x":695,"y":397,"v":0},{"x":707,"y":395,"v":0},{"x":715,"y":398,"v":0},{"x":696,"y":406,"v":0},{"x":705,"y":407,"v":0},{"x":712,"y":403,"v":0.35},
{"x":308,"y":431,"v":0},{"x":303,"y":439,"v":0},{"x":306,"y":447,"v":0},{"x":311,"y":452,"v":0},{"x":364,"y":457,"v":0},{"x":414,"y":466,"v":0},{"x":413,"y":477,"v":0},{"x":414,"y":487,"v":0},{"x":268,"y":482,"v":0},{"x":264,"y":489,"v":0},{"x":261,"y":495,"v":0},{"x":267,"y":498,"v":0},{"x":243,"y":508,"v":0},{"x":238,"y":513,"v":0},{"x":242,"y":520,"v":0},{"x":233,"y":518,"v":0},{"x":230,"y":525,"v":0},{"x":243,"y":528,"v":0},{"x":237,"y":528,"v":0},{"x":228,"y":535,"v":0},{"x":237,"y":537,"v":0},{"x":228,"y":543,"v":0},{"x":233,"y":550,"v":0},{"x":248,"y":543,"v":0},{"x":250,"y":554,"v":0},{"x":259,"y":554,"v":0},{"x":241,"y":560,"v":0},{"x":270,"y":554,"v":0},{"x":263,"y":563,"v":0},{"x":251,"y":568,"v":0},{"x":265,"y":514,"v":0},{"x":270,"y":530,"v":0},{"x":298,"y":565,"v":0},{"x":305,"y":575,"v":0},{"x":310,"y":583,"v":0},{"x":399,"y":501,"v":0.65},{"x":384,"y":493,"v":0.05},{"x":390,"y":499,"v":0},{"x":399,"y":493,"v":0.05},{"x":416,"y":500,"v":0},{"x":423,"y":504,"v":0},{"x":392,"y":516,"v":0.05},
{"x":338,"y":556,"v":0},{"x":343,"y":561,"v":0},{"x":368,"y":553,"v":0},{"x":374,"y":551,"v":0},{"x":383,"y":557,"v":0},{"x":363,"y":560,"v":0},{"x":375,"y":562,"v":0},{"x":403,"y":560,"v":0},{"x":414,"y":562,"v":0},{"x":421,"y":564,"v":0},{"x":356,"y":571,"v":0},{"x":367,"y":571,"v":0},{"x":396,"y":569,"v":0},{"x":403,"y":575,"v":0},{"x":375,"y":573,"v":0},{"x":385,"y":574,"v":0},{"x":363,"y":580,"v":0},{"x":372,"y":580,"v":0},{"x":395,"y":580,"v":0},{"x":419,"y":580,"v":0},{"x":347,"y":584,"v":0},{"x":355,"y":583,"v":0},{"x":363,"y":588,"v":0},{"x":372,"y":590,"v":0},{"x":378,"y":585,"v":0},{"x":386,"y":586,"v":0},{"x":406,"y":584,"v":0},{"x":340,"y":592,"v":0},{"x":355,"y":592,"v":0},{"x":378,"y":592,"v":0},{"x":385,"y":596,"v":0},{"x":396,"y":592,"v":0},{"x":412,"y":592,"v":0},{"x":347,"y":597,"v":0},{"x":363,"y":597,"v":0.05},{"x":370,"y":594,"v":0},{"x":339,"y":603,"v":0},{"x":353,"y":602,"v":0},{"x":360,"y":605,"v":0},{"x":367,"y":607,"v":0},{"x":374,"y":600,"v":0.8},{"x":343,"y":608,"v":0},{"x":352,"y":613,"v":0},{"x":361,"y":616,"v":0},{"x":378,"y":610,"v":0},{"x":391,"y":606,"v":0},{"x":408,"y":602,"v":0},{"x":414,"y":611,"v":0},{"x":422,"y":607,"v":0},{"x":398,"y":617,"v":0},{"x":381,"y":621,"v":0},{"x":371,"y":626,"v":0},{"x":428,"y":619,"v":0},{"x":434,"y":622,"v":0},{"x":426,"y":628,"v":0},{"x":409,"y":630,"v":0},{"x":382,"y":636,"v":0},{"x":419,"y":635,"v":0},{"x":393,"y":640,"v":0},{"x":415,"y":641,"v":0},{"x":376,"y":644,"v":0},{"x":427,"y":643,"v":0},{"x":436,"y":640,"v":0},{"x":385,"y":647,"v":0},{"x":403,"y":647,"v":0},{"x":395,"y":650,"v":0},{"x":434,"y":651,"v":0},{"x":379,"y":655,"v":0},{"x":387,"y":655,"v":0},{"x":402,"y":655,"v":0},{"x":429,"y":657,"v":0},{"x":393,"y":661,"v":0},{"x":383,"y":664,"v":0},{"x":422,"y":666,"v":0},{"x":393,"y":669,"v":0},{"x":402,"y":668,"v":0},{"x":414,"y":673,"v":0},{"x":385,"y":675,"v":0},{"x":407,"y":679,"v":0},{"x":390,"y":682,"v":0},{"x":395,"y":683,"v":0},{"x":401,"y":683,"v":0},{"x":393,"y":677,"v":0},
{"x":458,"y":453,"v":0},{"x":465,"y":455,"v":0},{"x":454,"y":458,"v":0},{"x":453,"y":463,"v":0},{"x":463,"y":463,"v":0},{"x":472,"y":457,"v":0.47},{"x":475,"y":467,"v":0.45},{"x":452,"y":471,"v":0},{"x":460,"y":469,"v":0},{"x":468,"y":470,"v":0},{"x":480,"y":473,"v":0},{"x":473,"y":477,"v":0.45},{"x":458,"y":480,"v":0},{"x":466,"y":481,"v":0},{"x":484,"y":481,"v":0},{"x":444,"y":484,"v":0},{"x":467,"y":489,"v":0},{"x":477,"y":489,"v":0},{"x":507,"y":494,"v":0},{"x":464,"y":497,"v":0},{"x":443,"y":510,"v":0},{"x":462,"y":508,"v":0},{"x":471,"y":507,"v":0},{"x":478,"y":515,"v":0},{"x":469,"y":518,"v":0},{"x":461,"y":522,"v":0},
{"x":601,"y":502,"v":0},{"x":553,"y":512,"v":0},{"x":558,"y":510,"v":0},{"x":563,"y":509,"v":0},{"x":569,"y":515,"v":0},{"x":556,"y":517,"v":0},{"x":563,"y":518,"v":0},{"x":548,"y":523,"v":0},{"x":555,"y":523,"v":0},{"x":562,"y":527,"v":0},{"x":553,"y":532,"v":0},{"x":538,"y":532,"v":0},{"x":574,"y":527,"v":0},{"x":582,"y":519,"v":0},{"x":591,"y":519,"v":0},{"x":599,"y":522,"v":0},{"x":592,"y":531,"v":0},{"x":607,"y":528,"v":0},{"x":609,"y":538,"v":0},{"x":557,"y":540,"v":0},{"x":582,"y":540,"v":0},{"x":555,"y":552,"v":0},{"x":607,"y":551,"v":0},{"x":587,"y":557,"v":0},{"x":536,"y":565,"v":0},{"x":552,"y":567,"v":0},{"x":566,"y":566,"v":0},{"x":578,"y":572,"v":0},{"x":587,"y":569,"v":0},{"x":596,"y":568,"v":0},{"x":602,"y":572,"v":0},{"x":541,"y":573,"v":0},{"x":548,"y":575,"v":0},{"x":559,"y":575,"v":0},{"x":584,"y":579,"v":0},{"x":593,"y":577,"v":0},{"x":598,"y":583,"v":0},{"x":525,"y":577,"v":0},{"x":535,"y":581,"v":0},{"x":543,"y":580,"v":0},{"x":555,"y":582,"v":0},{"x":518,"y":583,"v":0},{"x":529,"y":588,"v":0},{"x":538,"y":587,"v":0},{"x":547,"y":588,"v":0},{"x":609,"y":586,"v":0},{"x":616,"y":581,"v":0},{"x":624,"y":584,"v":0},{"x":632,"y":587,"v":0},{"x":518,"y":592,"v":0},{"x":535,"y":595,"v":0},{"x":543,"y":595,"v":0},{"x":552,"y":591,"v":0},{"x":619,"y":592,"v":0},{"x":634,"y":594,"v":0},{"x":515,"y":598,"v":0},{"x":525,"y":597,"v":0},{"x":563,"y":598,"v":0},{"x":583,"y":600,"v":0},{"x":625,"y":597,"v":0},{"x":637,"y":600,"v":0},{"x":533,"y":603,"v":0},{"x":541,"y":606,"v":0},{"x":633,"y":605,"v":0},{"x":513,"y":607,"v":0},{"x":528,"y":609,"v":0},{"x":575,"y":609,"v":0},{"x":624,"y":608,"v":0},{"x":519,"y":612,"v":0},{"x":558,"y":609,"v":0},{"x":550,"y":614,"v":0},{"x":565,"y":613,"v":0},{"x":598,"y":615,"v":0},{"x":631,"y":612,"v":0},{"x":513,"y":614,"v":0},{"x":573,"y":617,"v":0},{"x":558,"y":620,"v":0},{"x":585,"y":620,"v":0},{"x":627,"y":619,"v":0},{"x":517,"y":621,"v":0},{"x":524,"y":621,"v":0},{"x":567,"y":622,"v":0},{"x":573,"y":623,"v":0},{"x":624,"y":624,"v":0},{"x":533,"y":628,"v":0},{"x":580,"y":627,"v":0},{"x":564,"y":630,"v":0},{"x":573,"y":632,"v":0},{"x":592,"y":629,"v":0},{"x":603,"y":629,"v":0},{"x":583,"y":633,"v":0},{"x":546,"y":639,"v":0},{"x":569,"y":641,"v":0},{"x":578,"y":639,"v":0},{"x":590,"y":637,"v":0},{"x":603,"y":639,"v":0},{"x":583,"y":646,"v":0},{"x":553,"y":647,"v":0},{"x":595,"y":648,"v":0},{"x":603,"y":646,"v":0},{"x":560,"y":655,"v":0},{"x":566,"y":658,"v":0},{"x":572,"y":659,"v":0},{"x":581,"y":659,"v":0},{"x":589,"y":658,"v":0}
]},
"mark":{"type":"circle","size":112,"opacity":0.9},
"encoding":{
"x":{"field":"x","type":"quantitative","scale":{"domain":[82,776],"nice":false,"zero":false},"axis":{"title":"UMAP1","titleFontSize":34,"titleFontWeight":"normal","titleFont":"Liberation Sans","titleAnchor":"start","titleColor":"black","titlePadding":25,"labels":false,"ticks":false,"domain":false,"grid":false}},
"y":{"field":"y","type":"quantitative","scale":{"domain":[715,20],"nice":false,"zero":false},"axis":{"title":"UMAP2","titleFontSize":34,"titleFontWeight":"normal","titleFont":"Liberation Sans","titleAnchor":"start","titleColor":"black","titlePadding":30,"labels":false,"ticks":false,"domain":false,"grid":false}},
"color":{"field":"v","type":"quantitative","scale":{"domain":[0,0.5,1],"range":["#0000ff","#ffffff","#ff0000"],"interpolate":"rgb"},"legend":{"orient":"none","legendX":17,"legendY":504,"title":null,"values":[0,1],"format":"d","gradientLength":172,"gradientThickness":26,"gradientStrokeColor":"black","gradientStrokeWidth":4,"labelFontSize":33,"labelFont":"Liberation Sans","labelColor":"black","labelOffset":7,"encoding":{"gradient":{"opacity":{"value":1},"fillOpacity":{"value":0.88}},"labels":{"dy":{"condition":{"test":"datum.value===1","value":-15},"value":18},"dx":{"condition":{"test":"datum.value===1","value":0},"value":5}}}}}
}}
